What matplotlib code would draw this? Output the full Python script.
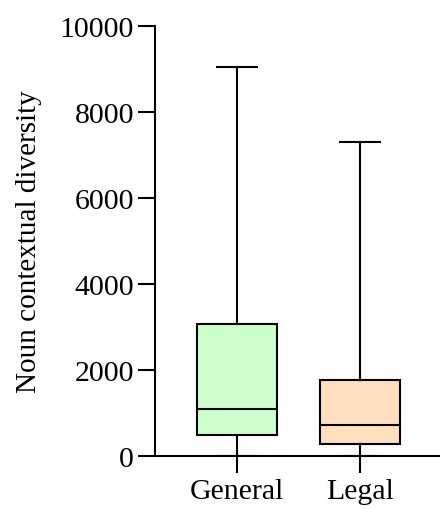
import matplotlib.pyplot as plt

# Box statistics
groups = ['General', 'Legal']
mins = [10, 10]
q1s = [490, 280]
medians = [1100, 730]
q3s = [3070, 1770]
maxs = [9050, 7310]
colors = ['#ccffcc', '#ffdfbf']

plt.rcParams['font.family'] = ['Liberation Serif', 'DejaVu Serif']

fig = plt.figure(figsize=(4.4, 5.1), dpi=100)
ax = fig.add_axes([0.352, 0.104, 0.648, 0.843])

stats = []
for g, lo, a, m, b, hi in zip(groups, mins, q1s, medians, q3s, maxs):
    stats.append(dict(label=g, whislo=lo, q1=a, med=m, q3=b, whishi=hi, fliers=[]))

lw = 1.5
bp = ax.bxp(stats, positions=[0, 1], widths=0.65, patch_artist=True,
            boxprops=dict(linewidth=lw, edgecolor='black'),
            medianprops=dict(color='black', linewidth=lw),
            whiskerprops=dict(color='black', linewidth=lw),
            capprops=dict(color='black', linewidth=lw))
for patch, c in zip(bp['boxes'], colors):
    patch.set_facecolor(c)

ax.set_xlim(-0.667, 1.65)
ax.set_ylim(0, 10000)
ax.set_yticks([0, 2000, 4000, 6000, 8000, 10000])
ax.set_xticks([0, 1])
ax.set_xticklabels(groups)

ax.spines['top'].set_visible(False)
ax.spines['right'].set_visible(False)
ax.spines['left'].set_linewidth(lw)
ax.spines['bottom'].set_linewidth(lw)
ax.tick_params(axis='y', length=12, width=lw, labelsize=21.5, pad=3)
ax.tick_params(axis='x', length=12, width=lw, labelsize=21.5, pad=4)
ax.set_ylabel('Noun contextual diversity', fontsize=21, labelpad=13)

fig.savefig('out.png', dpi=100)
